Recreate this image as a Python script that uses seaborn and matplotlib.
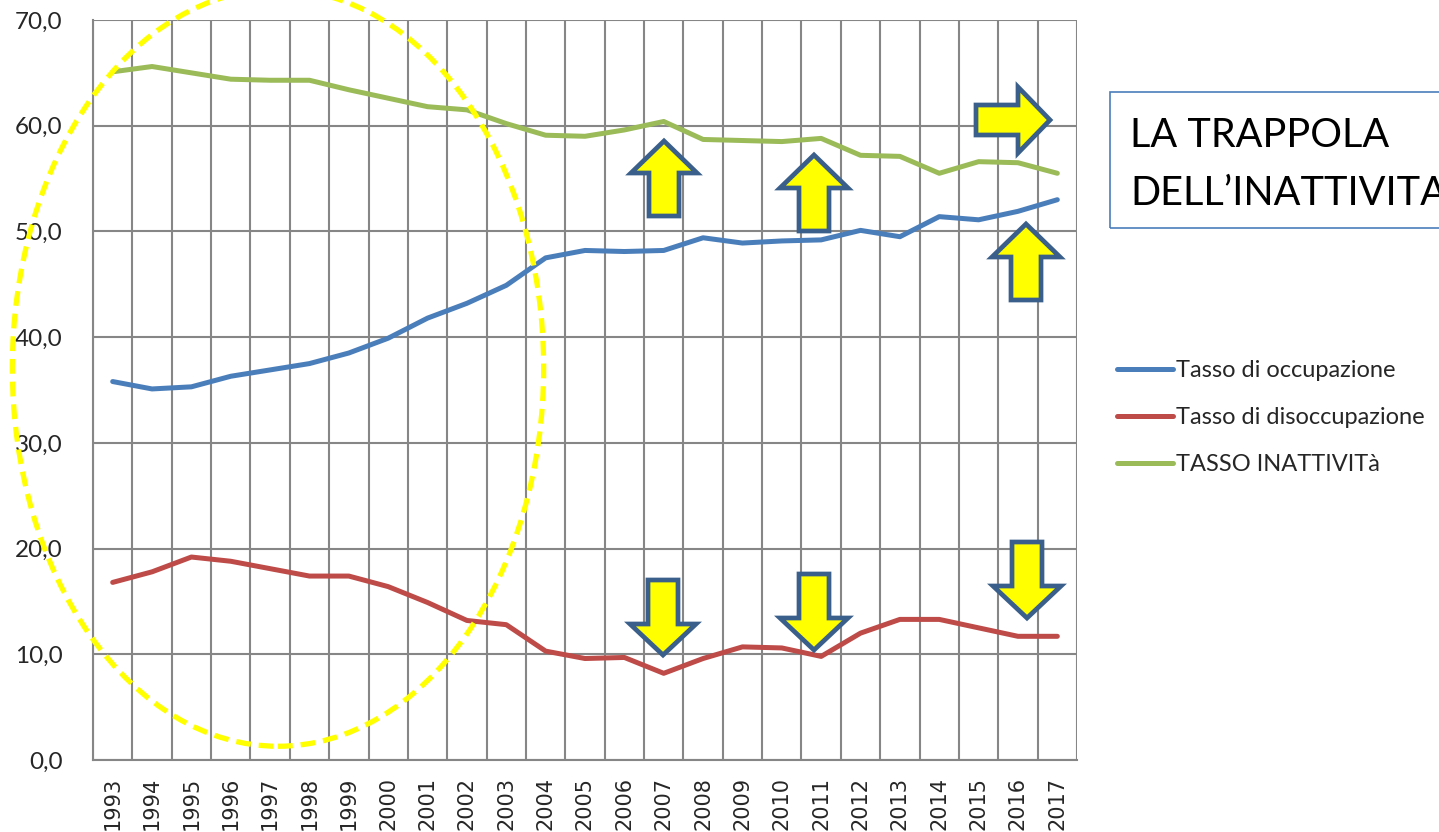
import numpy as np
import pandas as pd
import matplotlib
matplotlib.use("Agg")
import matplotlib.pyplot as plt
import seaborn as sns
from matplotlib.patches import Polygon, Ellipse, Rectangle
from matplotlib.ticker import MultipleLocator, FixedLocator

# data
years = [str(y) for y in range(1993, 2018)]
occupazione = [35.8, 35.1, 35.3, 36.3, 36.9, 37.5, 38.5, 39.9, 41.8, 43.2, 44.9, 47.5, 48.2,
               48.1, 48.2, 49.4, 48.9, 49.1, 49.2, 50.1, 49.5, 51.4, 51.1, 51.9, 53.0]
disoccupazione = [16.8, 17.8, 19.2, 18.8, 18.1, 17.4, 17.4, 16.4, 14.9, 13.2, 12.8, 10.3, 9.6,
                  9.7, 8.2, 9.6, 10.7, 10.6, 9.8, 12.0, 13.3, 13.3, 12.5, 11.7, 11.7]
inattivita = [65.1, 65.6, 65.0, 64.4, 64.3, 64.3, 63.4, 62.6, 61.8, 61.5, 60.2, 59.1, 59.0,
              59.6, 60.4, 58.7, 58.6, 58.5, 58.8, 57.2, 57.1, 55.5, 56.6, 56.5, 55.5]
series_names = ["Tasso di occupazione", "Tasso di disoccupazione", "TASSO INATTIVITà"]
colors = ["#4A7EBB", "#BE4B48", "#9BBB59"]

df = pd.DataFrame({
    "idx": list(range(len(years))) * 3,
    "valore": occupazione + disoccupazione + inattivita,
    "serie": [s for s in series_names for _ in years],
})

sns.set_style("white")
plt.rcParams["font.family"] = ["Lato", "DejaVu Sans"]

W, H = 1439, 832
fig = plt.figure(figsize=(W / 100, H / 100), dpi=100)
ax = fig.add_axes([93 / W, 1 - 760 / H, (1077 - 93) / W, (760 - 20) / H])

sns.lineplot(data=df, x="idx", y="valore", hue="serie", palette=colors,
             linewidth=3.6, ax=ax, legend=True, zorder=3)

ax.set_xlim(-0.5, len(years) - 0.5)
ax.set_ylim(0, 70)
ax.set_xlabel("")
ax.set_ylabel("")

grid_c = "#868686"
ax.yaxis.set_major_locator(MultipleLocator(10))
ax.set_yticklabels([f"{v:.1f}".replace(".", ",") for v in ax.get_yticks()])
ax.set_xticks(range(len(years)))
ax.set_xticklabels(years, rotation=90, family="DejaVu Sans", fontsize=15)
ax.xaxis.set_minor_locator(FixedLocator(np.arange(-0.5, len(years), 1)))
ax.tick_params(axis="x", which="major", length=0, pad=12)
ax.tick_params(axis="x", which="minor", length=6, color=grid_c, width=1.5)
ax.tick_params(axis="y", which="major", length=6, color=grid_c, width=1.5,
               labelsize=17.5, pad=16)
ax.grid(axis="y", which="major", color=grid_c, linewidth=1.5)
ax.grid(axis="x", which="minor", color=grid_c, linewidth=1.5)
for side in ["top", "right"]:
    ax.spines[side].set_visible(False)
for side in ["left", "bottom"]:
    ax.spines[side].set_color(grid_c)
    ax.spines[side].set_linewidth(1.5)

leg = ax.legend(loc="upper left", bbox_to_anchor=(1096 / W, 1 - 339 / H),
                bbox_transform=fig.transFigure, frameon=False, fontsize=17,
                handlelength=2.35, handletextpad=0.15, labelspacing=1.1)
for line in leg.get_lines():
    line.set_linewidth(3.6)

# dashed yellow ellipse
ax.add_patch(Ellipse((4.2, 37.1), 13.5, 71.6, fill=False, edgecolor="#FFFF00",
                     linewidth=3.8, linestyle=(0, (2.8, 1.5)), clip_on=False, zorder=5))


def px(x, y):
    return (x / W, 1 - y / H)


def block_arrow(cx, tip, base, tail, hw, sw, kind):
    if kind == "right":
        pts = [(tip, cx), (base, cx - hw), (base, cx - sw), (tail, cx - sw),
               (tail, cx + sw), (base, cx + sw), (base, cx + hw)]
    else:
        pts = [(cx, tip), (cx + hw, base), (cx + sw, base), (cx + sw, tail),
               (cx - sw, tail), (cx - sw, base), (cx - hw, base)]
    fig.patches.append(Polygon([px(a, b) for a, b in pts], closed=True,
                               transform=fig.transFigure, facecolor="#FFFF00",
                               edgecolor="#3A5F8B", linewidth=3.4, zorder=6))


block_arrow(664, 141, 173, 216, 33, 15, "up")
block_arrow(814, 155, 188, 231, 34, 15, "up")
block_arrow(1026, 224, 257, 300, 34, 15, "up")
block_arrow(663, 655, 624, 580, 33, 15, "down")
block_arrow(814, 650, 618, 574, 34, 15, "down")
block_arrow(1027, 618, 586, 542, 34, 15, "down")
block_arrow(120, 1050, 1018, 976, 33, 15, "right")

# text box (runs past the right edge, as in the original slide)
x0, y0 = px(1110, 228)
fig.patches.append(Rectangle((x0, y0), 400 / W, 136 / H, transform=fig.transFigure,
                             fill=False, edgecolor="#4A7EBB", linewidth=1.2))
fig.text(1130 / W, 1 - 147 / H, "LA TRAPPOLA", fontsize=28.5, va="baseline", ha="left",
         color="black")
fig.text(1130 / W, 1 - 205 / H, "DELL\u2019INATTIVITA", fontsize=28.5, va="baseline", ha="left",
         color="black")

fig.savefig("out.png", dpi=100)
